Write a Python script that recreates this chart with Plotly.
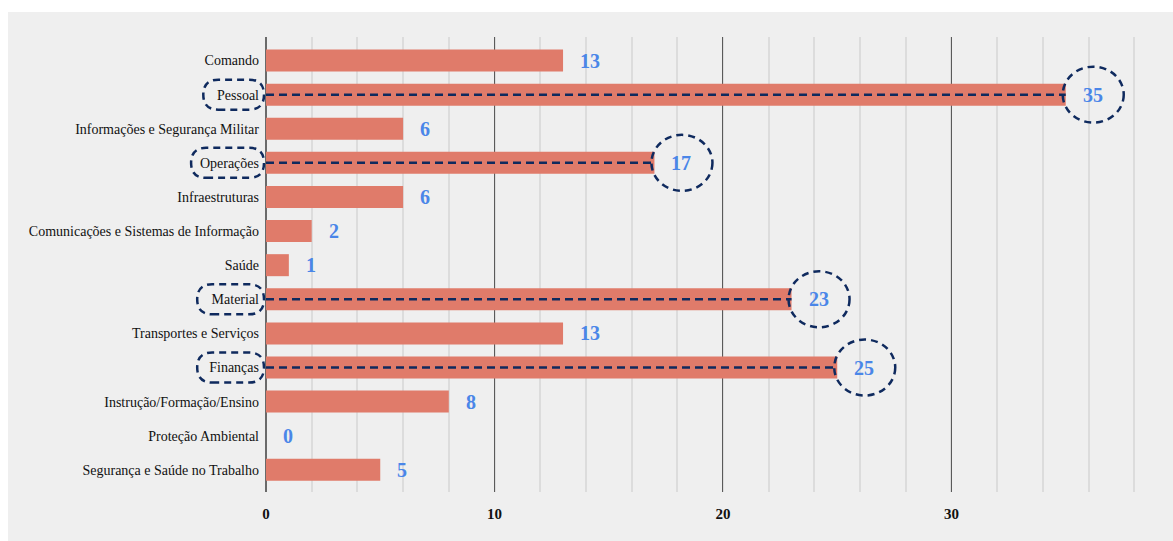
import plotly.graph_objects as go

categories = [
    "Comando", "Pessoal", "Informações e Segurança Militar", "Operações",
    "Infraestruturas", "Comunicações e Sistemas de Informação", "Saúde",
    "Material", "Transportes e Serviços", "Finanças",
    "Instrução/Formação/Ensino", "Proteção Ambiental",
    "Segurança e Saúde no Trabalho",
]
values = [13, 35, 6, 17, 6, 2, 1, 23, 13, 25, 8, 0, 5]
highlighted = ["Pessoal", "Operações", "Material", "Finanças"]
x_ticks = [0, 10, 20, 30]

FONT = "Liberation Serif, Times New Roman, serif"
BAR = "#E07B6A"
BLUE = "#4A86E8"
NAVY = "#0F2A5E"
BG = "#EFEFEF"

W_PX, H_PX = 1173, 541
L, R, T, B = 266, 25, 37, 49
XMAX = 38.6
PW = W_PX - L - R
PH = H_PX - T - B


def rounded_rect(x0, x1, y0, y1, r):
    return (f"M {x0 + r},{y0} L {x1 - r},{y0} Q {x1},{y0} {x1},{y0 + r} "
            f"L {x1},{y1 - r} Q {x1},{y1} {x1 - r},{y1} "
            f"L {x0 + r},{y1} Q {x0},{y1} {x0},{y1 - r} "
            f"L {x0},{y0 + r} Q {x0},{y0} {x0 + r},{y0} Z")


fig = go.Figure()
fig.add_trace(go.Bar(
    x=values, y=categories, orientation="h",
    marker=dict(color=BAR, line=dict(width=0)),
    hoverinfo="x+y",
))

annotations = []
for c, v in zip(categories, values):
    annotations.append(dict(
        x=v, y=c, xref="x", yref="y", text=str(v), showarrow=False,
        xanchor="left", yanchor="middle", xshift=15,
        font=dict(family=FONT, size=20, color=BLUE, weight="bold"),
    ))

shapes = [
    dict(type="rect", xref="paper", yref="paper",
         x0=(8 - L) / PW, x1=(W_PX - L) / PW + 0.01,
         y0=-B / PH - 0.02, y1=(T + PH - 12) / PH,
         fillcolor=BG, line=dict(width=0), layer="below"),
]
for c, v in zip(categories, values):
    if c not in highlighted:
        continue
    tw = len(c) * 6.1
    # rounded outline around category label
    shapes.append(dict(
        type="path", xref="paper", yref="y",
        xsizemode="pixel", ysizemode="pixel", xanchor=0, yanchor=c,
        path=rounded_rect(-(tw + 20), -2, -15, 15, 15),
        line=dict(color=NAVY, width=2.5, dash="7px,5px"),
    ))
    # ellipse around value label
    shapes.append(dict(
        type="circle", xref="x", yref="y",
        xsizemode="pixel", ysizemode="pixel", xanchor=v, yanchor=c,
        x0=-3, x1=58, y0=-28, y1=28,
        line=dict(color=NAVY, width=2.5, dash="7px,5px"),
    ))
    # dashed line across bar
    shapes.append(dict(
        type="line", xref="x", yref="y", x0=0, x1=v, y0=c, y1=c,
        line=dict(color=NAVY, width=2.5, dash="8px,5px"),
    ))

fig.update_layout(
    width=W_PX, height=H_PX,
    margin=dict(l=L, r=R, t=T, b=B, pad=0),
    paper_bgcolor="white", plot_bgcolor="rgba(0,0,0,0)",
    showlegend=False, bargap=0.355,
    font=dict(family=FONT, color="#111111"),
    annotations=annotations, shapes=shapes,
    xaxis=dict(
        range=[0, XMAX], tickvals=x_ticks, ticktext=[str(t) for t in x_ticks],
        showgrid=True, gridcolor="#5A5A5A", gridwidth=1,
        minor=dict(dtick=2, showgrid=True, gridcolor="#DCDCDC", gridwidth=1.5),
        zeroline=True, zerolinecolor="#6A6A6A", zerolinewidth=1.5,
        showline=False, ticks="",
        tickfont=dict(family=FONT, size=15, color="#111111", weight="bold"),
        ticklabelstandoff=11,
    ),
    yaxis=dict(
        range=[len(categories) - 1 + 0.65, -0.69],
        showgrid=False, zeroline=False, ticks="",
        tickfont=dict(family=FONT, size=14, color="#111111"),
        ticklabelstandoff=6,
    ),
)

fig.write_html("out.html")
